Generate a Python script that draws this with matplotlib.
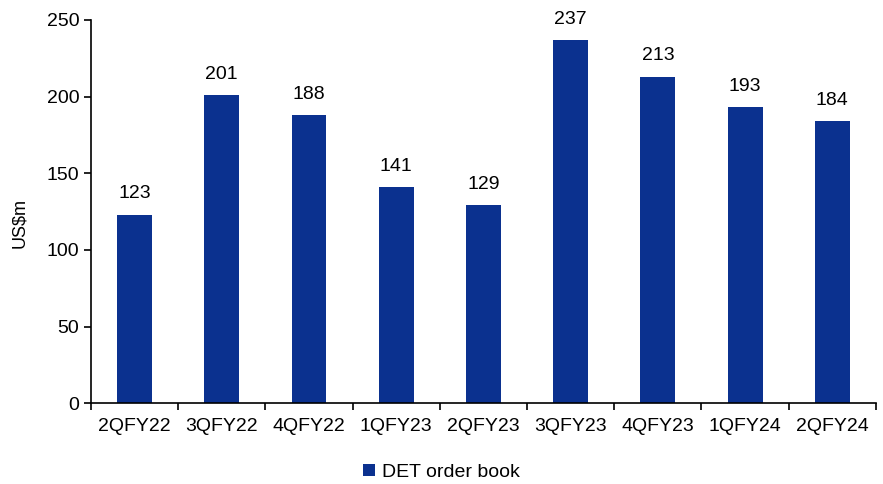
import numpy as np
import matplotlib
matplotlib.use("Agg")
import matplotlib.pyplot as plt

plt.rcParams['font.family'] = ['Liberation Sans', 'DejaVu Sans']

quarters = ["2QFY22", "3QFY22", "4QFY22", "1QFY23", "2QFY23",
            "3QFY23", "4QFY23", "1QFY24", "2QFY24"]
order_book = [123, 201, 188, 141, 129, 237, 213, 193, 184]

fig = plt.figure(figsize=(8.83, 4.84), dpi=100)
ax = fig.add_axes([0.103, 0.167, 0.889, 0.792])

x = np.arange(len(quarters))
bars = ax.bar(x, order_book, width=0.4, color="#0B318F", label="DET order book")
for xi, v in zip(x, order_book):
    ax.text(xi, v + 8, str(v), ha="center", va="bottom", fontsize=14)

ax.set_xlim(-0.5, len(quarters) - 0.5)
ax.set_ylim(0, 250)
ax.set_yticks(range(0, 251, 50))
ax.set_xticks(x)
ax.set_xticklabels(quarters)
ax.set_xticks(np.arange(-0.5, len(quarters), 1), minor=True)
ax.tick_params(axis="x", which="major", length=0, labelsize=14, pad=11)
ax.tick_params(axis="x", which="minor", length=5, width=1.2, direction="out")
ax.tick_params(axis="y", length=5, width=1.2, direction="out", labelsize=14)
ax.set_ylabel("US$m", fontsize=13)
ax.yaxis.set_label_coords(-0.08, 0.47)

for s in ["top", "right"]:
    ax.spines[s].set_visible(False)
ax.spines["left"].set_linewidth(1.2)
ax.spines["bottom"].set_linewidth(1.2)

fig.legend(handles=[bars], labels=["DET order book"], loc="center",
           bbox_to_anchor=(0.5, 0.024), frameon=False, fontsize=14,
           handlelength=0.6, handleheight=0.6, handletextpad=0.4)

fig.savefig("out.png", dpi=100)
